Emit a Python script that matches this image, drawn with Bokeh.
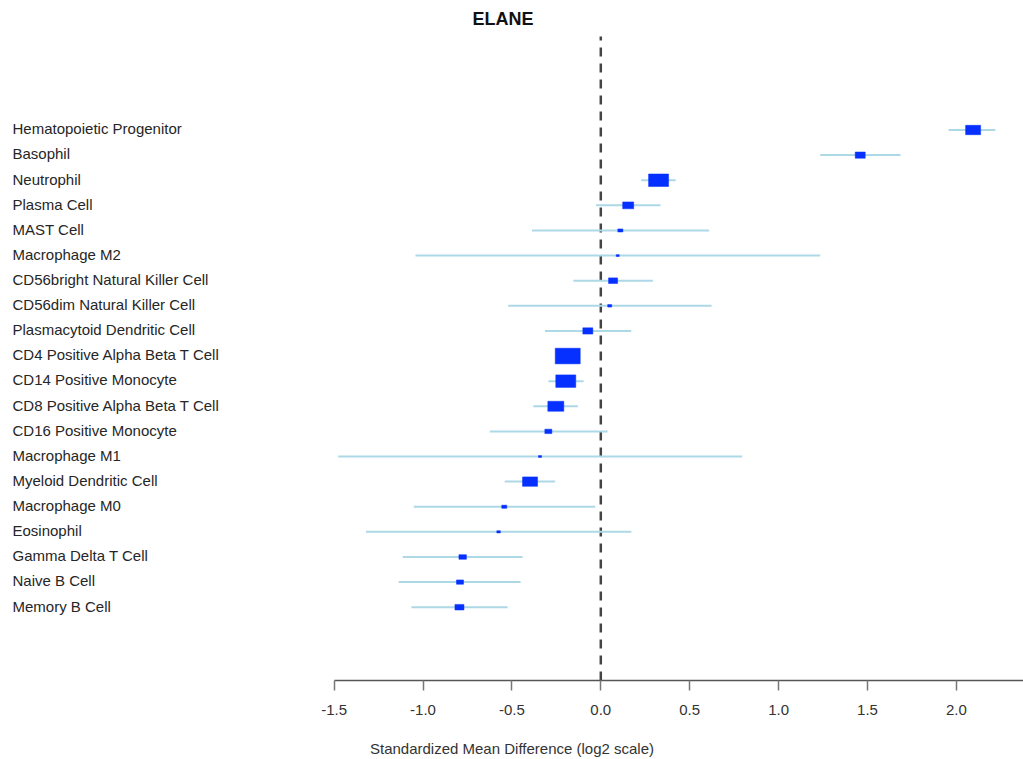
from bokeh.plotting import figure
from bokeh.models import ColumnDataSource, LabelSet, Label, FixedTicker, Range1d
from bokeh.core.properties import value
from bokeh.embed import file_html
from bokeh.resources import INLINE

# ---------------- data ----------------
title = "ELANE"
cell_types = [
    "Hematopoietic Progenitor", "Basophil", "Neutrophil", "Plasma Cell", "MAST Cell",
    "Macrophage M2", "CD56bright Natural Killer Cell", "CD56dim Natural Killer Cell",
    "Plasmacytoid Dendritic Cell", "CD4 Positive Alpha Beta T Cell", "CD14 Positive Monocyte",
    "CD8 Positive Alpha Beta T Cell", "CD16 Positive Monocyte", "Macrophage M1",
    "Myeloid Dendritic Cell", "Macrophage M0", "Eosinophil", "Gamma Delta T Cell",
    "Naive B Cell", "Memory B Cell",
]
effect = [2.094, 1.459, 0.325, 0.154, 0.110, 0.095, 0.069, 0.050, -0.073, -0.186,
          -0.197, -0.253, -0.295, -0.342, -0.398, -0.543, -0.575, -0.777, -0.792, -0.795]
ci_low = [1.956, 1.234, 0.227, -0.027, -0.387, -1.042, -0.154, -0.521, -0.314, -0.240,
          -0.295, -0.380, -0.624, -1.477, -0.540, -1.052, -1.321, -1.114, -1.137, -1.065]
ci_high = [2.219, 1.686, 0.421, 0.336, 0.609, 1.234, 0.293, 0.623, 0.171, -0.130,
           -0.097, -0.129, 0.038, 0.795, -0.257, -0.031, 0.172, -0.440, -0.451, -0.524]
weight = [0.60, 0.40, 0.80, 0.44, 0.20, 0.12, 0.36, 0.16, 0.40, 1.00,
          0.80, 0.64, 0.28, 0.12, 0.60, 0.20, 0.14, 0.30, 0.28, 0.36]
x_ticks = [-1.5, -1.0, -0.5, 0.0, 0.5, 1.0, 1.5, 2.0]
x_tick_labels = ["-1.5", "-1.0", "-0.5", "0.0", "0.5", "1.0", "1.5", "2.0"]
null_effect = 0.0
x_label = "Standardized Mean Difference (log2 scale)"

# ---------------- layout ----------------
W, H = 1023, 759
frame_bottom = 680
x_zero_px, x_unit_px = 600.3, 177.8
row_top_px, row_step_px = 129.5, 25.116
n = len(cell_types)
rows = [n - i for i in range(n)]

x_start = (0 - x_zero_px) / x_unit_px
x_end = (W - x_zero_px) / x_unit_px
y_end = n + row_top_px / row_step_px
y_start = y_end - frame_bottom / row_step_px

def xdata(px):
    return (px - x_zero_px) / x_unit_px

def ydata(py):
    return y_end - py / row_step_px

FONT = "Liberation Sans"
max_box = 25.0
label_shift = 1.2 / row_step_px

src = ColumnDataSource(dict(
    label=cell_types, y=rows, est=effect, lo=ci_low, hi=ci_high,
    bw=[w * max_box for w in weight], bh=[w * max_box / 1.6 for w in weight],
    lx=[xdata(12)] * n, ly=[r + label_shift for r in rows],
))

p = figure(width=W, height=H, output_backend="svg", toolbar_location=None,
           x_range=Range1d(x_start, x_end), y_range=Range1d(y_start, y_end),
           min_border_left=0, min_border_right=0, min_border_top=0, min_border_bottom=H - frame_bottom)
p.outline_line_color = None
p.xgrid.visible = False
p.ygrid.visible = False
p.yaxis.visible = False

# reference line
p.segment(x0=null_effect, x1=null_effect, y0=y_start, y1=ydata(36),
          line_color="#444444", line_width=2.5, line_dash="9 7")

# CI lines
p.segment(x0="lo", x1="hi", y0="y", y1="y", source=src, line_color="#add8e6", line_width=2)
# boxes
p.rect(x="est", y="y", width="bw", height="bh", width_units="screen", height_units="screen",
       source=src, fill_color="#0530ff", line_color="#0530ff", line_width=0.5)

# row labels
labels = LabelSet(x="lx", y="ly", text="label", source=src, text_align="left",
                  text_baseline="middle", text_font=value(FONT), text_font_size=value("15px"),
                  text_color=value("#262626"))
p.add_layout(labels)

# title
p.add_layout(Label(x=xdata(502.5), y=ydata(18), text=title, text_align="center",
                   text_baseline="middle", text_font=FONT, text_font_size="18px",
                   text_font_style="bold", text_color="#111111"))

# x axis
ax = p.xaxis[0]
ax.ticker = FixedTicker(ticks=x_ticks)
ax.major_label_overrides = {t: s for t, s in zip(x_ticks, x_tick_labels)}
ax.bounds = (x_ticks[0], x_end)
ax.axis_line_color = "#555555"
ax.axis_line_width = 1.5
ax.major_tick_line_color = "#777777"
ax.major_tick_line_width = 1.5
ax.major_tick_out = 10
ax.major_tick_in = 0
ax.minor_tick_out = 0
ax.minor_tick_in = 0
ax.major_label_standoff = 14
ax.major_label_text_font = FONT
ax.major_label_text_font_size = "15px"
ax.major_label_text_color = "#333333"
ax.axis_label = x_label
ax.axis_label_text_font = FONT
ax.axis_label_text_font_size = "15px"
ax.axis_label_text_font_style = "normal"
ax.axis_label_text_color = "#333333"
ax.axis_label_standoff = 22

open("out.html", "w").write(file_html(p, INLINE))
